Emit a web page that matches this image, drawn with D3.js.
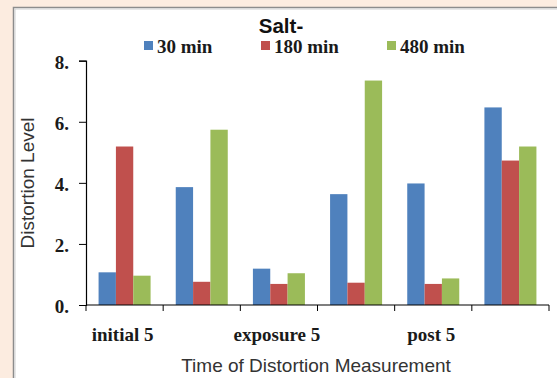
<!DOCTYPE html>
<html>
<head>
<meta charset="utf-8">
<script src="https://cdn.jsdelivr.net/npm/d3@7"></script>
<style>
  html, body { margin: 0; padding: 0; background: #fcece0; }
  svg { display: block; }
</style>
</head>
<body>
<svg id="chart" width="557" height="378"></svg>
<script>
// Measurement points along the x axis (only every other one is labelled)
const categories = ["initial 5", "c2", "exposure 5", "c4", "post 5", "c6"];
const tickLabels = ["initial 5", "", "exposure 5", "", "post 5", ""];

// Series: distortion level after each salt exposure duration
const seriesNames = ["30 min", "180 min", "480 min"];
const values30 = [1.07, 3.86, 1.19, 3.63, 3.98, 6.47];
const values180 = [5.19, 0.76, 0.69, 0.73, 0.69, 4.73];
const values480 = [0.96, 5.74, 1.04, 7.35, 0.87, 5.19];
const seriesColors = ["#4f81bd", "#c0504d", "#9bbb59"];

const yTicks = [0, 2, 4, 6, 8];

const series = [values30, values180, values480];

const svg = d3.select("#chart");

// white chart panel with a grey frame
svg.append("rect")
  .attr("x", 13.5).attr("y", 7.5)
  .attr("width", 560).attr("height", 380)
  .attr("fill", "#ffffff")
  .attr("stroke", "#8c8c8c").attr("stroke-width", 1.5);
svg.append("rect")
  .attr("x", 15).attr("y", 9)
  .attr("width", 560).attr("height", 380)
  .attr("fill", "none")
  .attr("stroke", "#d0d0d0").attr("stroke-width", 1);

const plot = { left: 86, right: 549, top: 60.7, bottom: 305 };

const gap = 0.326;
const x0 = d3.scaleBand()
  .domain(categories)
  .range([plot.left, plot.right])
  .paddingInner(gap)
  .paddingOuter(gap / 2);

const x1 = d3.scaleBand()
  .domain(d3.range(series.length))
  .range([0, x0.bandwidth()]);

const y = d3.scaleLinear()
  .domain([0, 8])
  .range([plot.bottom, plot.top]);

// bars
const groups = svg.append("g").selectAll("g")
  .data(categories)
  .join("g")
  .attr("transform", d => `translate(${x0(d)},0)`);

groups.selectAll("rect")
  .data((d, i) => series.map((s, k) => ({ k, v: s[i] })))
  .join("rect")
  .attr("x", d => x1(d.k))
  .attr("width", x1.bandwidth())
  .attr("y", d => y(d.v))
  .attr("height", d => y(0) - y(d.v))
  .attr("fill", d => seriesColors[d.k]);

// y axis
const yAxis = d3.axisLeft(y)
  .tickValues(yTicks)
  .tickSize(7)
  .tickFormat(d => d + ".");
const gy = svg.append("g")
  .attr("transform", `translate(${plot.left},0)`)
  .call(yAxis);
gy.select(".domain").attr("stroke", "#000").attr("stroke-width", 1.2);
gy.selectAll(".tick line").attr("stroke", "#000");
gy.selectAll(".tick text")
  .attr("x", -17)
  .attr("dy", "0.4em")
  .attr("fill", "#1a1a1a")
  .style("font-family", "'Liberation Serif', serif")
  .style("font-weight", "bold")
  .style("font-size", "19px");

// x axis: line with boundary ticks between groups
const step = x0.step();
const boundaries = d3.range(categories.length + 1).map(i => plot.left + i * step);
const gx = svg.append("g");
gx.append("line")
  .attr("x1", plot.left).attr("x2", plot.right)
  .attr("y1", plot.bottom).attr("y2", plot.bottom)
  .attr("stroke", "#000").attr("stroke-width", 1.2);
gx.selectAll("line.tk")
  .data(boundaries)
  .join("line")
  .attr("class", "tk")
  .attr("x1", d => d).attr("x2", d => d)
  .attr("y1", plot.bottom).attr("y2", plot.bottom + 6)
  .attr("stroke", "#000");

gx.selectAll("text")
  .data(categories.map((c, i) => ({ c, label: tickLabels[i] })).filter(d => d.label))
  .join("text")
  .attr("x", d => x0(d.c) + x0.bandwidth() / 2 - 2)
  .attr("y", 341)
  .attr("text-anchor", "middle")
  .attr("fill", "#1a1a1a")
  .style("font-family", "'Liberation Serif', serif")
  .style("font-weight", "bold")
  .style("font-size", "19px")
  .text(d => d.label);

// axis titles
svg.append("text")
  .attr("x", 316).attr("y", 372)
  .attr("text-anchor", "middle")
  .attr("fill", "#333")
  .style("font-family", "'Liberation Sans', Arial, sans-serif")
  .style("font-size", "19px")
  .text("Time of Distortion Measurement");

svg.append("text")
  .attr("transform", "translate(34,183) rotate(-90)")
  .attr("text-anchor", "middle")
  .attr("fill", "#333")
  .style("font-family", "'Liberation Sans', Arial, sans-serif")
  .style("font-size", "19px")
  .text("Distortion Level");

// chart title
svg.append("text")
  .attr("x", 281).attr("y", 33)
  .attr("text-anchor", "middle")
  .attr("fill", "#111")
  .style("font-family", "'Liberation Sans', Arial, sans-serif")
  .style("font-weight", "bold")
  .style("font-size", "20.5px")
  .text("Salt-");

// legend
const legendX = [144, 261, 387];
const legend = svg.append("g").selectAll("g")
  .data(seriesNames)
  .join("g")
  .attr("transform", (d, i) => `translate(${legendX[i]},0)`);
legend.append("rect")
  .attr("x", 0).attr("y", 41)
  .attr("width", 9).attr("height", 9)
  .attr("fill", (d, i) => seriesColors[i]);
legend.append("text")
  .attr("x", 13).attr("y", 53)
  .attr("fill", "#1a1a1a")
  .style("font-family", "'Liberation Serif', serif")
  .style("font-weight", "bold")
  .style("font-size", "19px")
  .text(d => d);
</script>
</body>
</html>
